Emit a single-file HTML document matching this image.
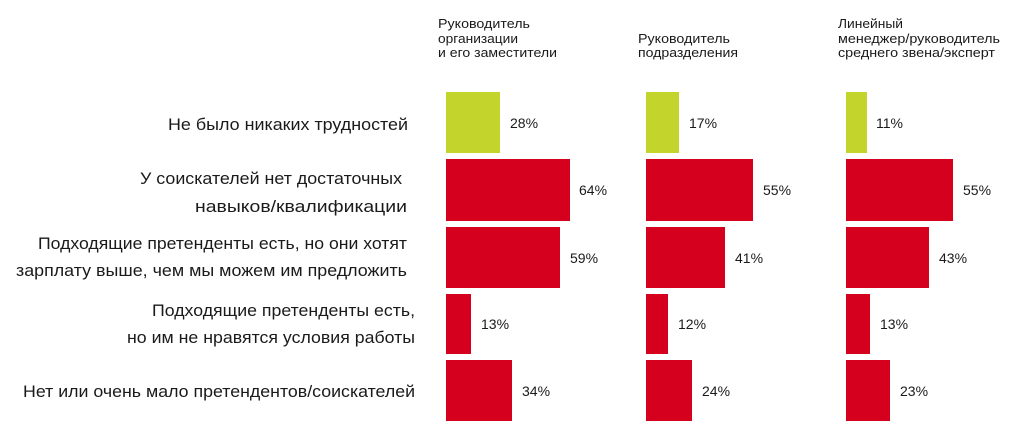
<!DOCTYPE html>
<html><head><meta charset="utf-8"><style>
html,body{margin:0;padding:0;background:#fff;}
svg{display:block;}
text{font-family:"Liberation Sans","Noto Sans CJK SC",sans-serif;fill:#1a1a1a;}
.h{font-size:13px;}
.l{font-size:17px;}
.p{font-size:14px;}
</style></head><body>
<svg width="1024" height="439" viewBox="0 0 1024 439" xmlns="http://www.w3.org/2000/svg">
<g class="h">
<text x="438" y="28" textLength="92" lengthAdjust="spacingAndGlyphs">Руководитель</text>
<text x="438" y="43" textLength="80" lengthAdjust="spacingAndGlyphs">организации</text>
<text x="438" y="57" textLength="119" lengthAdjust="spacingAndGlyphs">и его заместители</text>
<text x="638" y="43" textLength="92" lengthAdjust="spacingAndGlyphs">Руководитель</text>
<text x="638" y="57" textLength="100" lengthAdjust="spacingAndGlyphs">подразделения</text>
<text x="838" y="28" textLength="65" lengthAdjust="spacingAndGlyphs">Линейный</text>
<text x="838" y="43" textLength="162" lengthAdjust="spacingAndGlyphs">менеджер/руководитель</text>
<text x="838" y="57" textLength="157" lengthAdjust="spacingAndGlyphs">среднего звена/эксперт</text>
</g>
<g class="l" text-anchor="end">
<text x="408" y="130" textLength="240" lengthAdjust="spacingAndGlyphs">Не было никаких трудностей</text>
<text x="402" y="184" textLength="262" lengthAdjust="spacingAndGlyphs">У соискателей нет достаточных</text>
<text x="407" y="212" textLength="212" lengthAdjust="spacingAndGlyphs">навыков/квалификации</text>
<text x="407" y="249" textLength="369" lengthAdjust="spacingAndGlyphs">Подходящие претенденты есть, но они хотят</text>
<text x="407" y="276" textLength="391" lengthAdjust="spacingAndGlyphs">зарплату выше, чем мы можем им предложить</text>
<text x="415" y="316" textLength="263" lengthAdjust="spacingAndGlyphs">Подходящие претенденты есть,</text>
<text x="415" y="343" textLength="288" lengthAdjust="spacingAndGlyphs">но им не нравятся условия работы</text>
<text x="415" y="397" textLength="392" lengthAdjust="spacingAndGlyphs">Нет или очень мало претендентов/соискателей</text>
</g>
<g fill="#d4001e">
<rect x="446" y="92" width="54" height="61" fill="#c3d52c"/>
<rect x="446" y="159" width="124" height="62"/>
<rect x="446" y="227" width="114" height="61"/>
<rect x="446" y="294" width="25" height="60"/>
<rect x="446" y="360" width="66" height="61"/>
<rect x="646" y="92" width="33" height="61" fill="#c3d52c"/>
<rect x="646" y="159" width="107" height="62"/>
<rect x="646" y="227" width="79" height="61"/>
<rect x="646" y="294" width="22" height="60"/>
<rect x="646" y="360" width="46" height="61"/>
<rect x="846" y="92" width="21" height="61" fill="#c3d52c"/>
<rect x="846" y="159" width="107" height="62"/>
<rect x="846" y="227" width="83" height="61"/>
<rect x="846" y="294" width="24" height="60"/>
<rect x="846" y="360" width="44" height="61"/>
</g>
<g class="p">
<text x="510" y="128">28%</text>
<text x="579" y="195">64%</text>
<text x="570" y="263">59%</text>
<text x="481" y="329">13%</text>
<text x="522" y="396">34%</text>
<text x="689" y="128">17%</text>
<text x="763" y="195">55%</text>
<text x="735" y="263">41%</text>
<text x="678" y="329">12%</text>
<text x="702" y="396">24%</text>
<text x="876" y="128">11%</text>
<text x="963" y="195">55%</text>
<text x="939" y="263">43%</text>
<text x="880" y="329">13%</text>
<text x="900" y="396">23%</text>
</g>
</svg>
</body></html>
